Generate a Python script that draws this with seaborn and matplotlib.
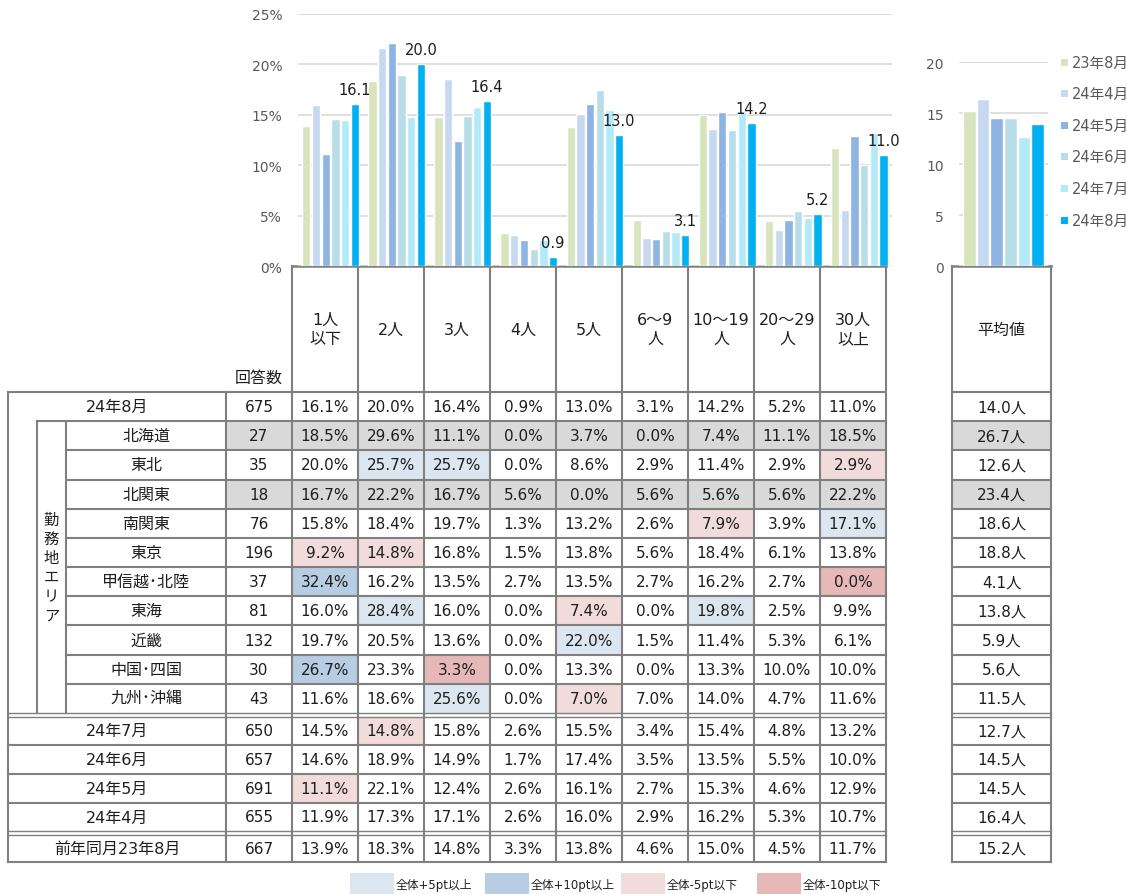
import numpy as np
import pandas as pd
import matplotlib
matplotlib.use("Agg")
import matplotlib.pyplot as plt
from matplotlib.patches import Rectangle
import seaborn as sns

# ---------------- data ----------------
size_labels = ["1人\n以下", "2人", "3人", "4人", "5人", "6～9\n人", "10～19\n人", "20～29\n人", "30人\n以上"]
months = ["23年8月", "24年4月", "24年5月", "24年6月", "24年7月", "24年8月"]

# bar heights (%) per month and size class
bar_2308 = [13.9, 18.3, 14.8, 3.3, 13.8, 4.6, 15.0, 4.5, 11.7]
bar_2404 = [16.0, 21.6, 18.5, 3.1, 15.1, 2.8, 13.6, 3.6, 5.6]
bar_2405 = [11.1, 22.1, 12.4, 2.6, 16.1, 2.7, 15.3, 4.6, 12.9]
bar_2406 = [14.6, 18.9, 14.9, 1.7, 17.4, 3.5, 13.5, 5.5, 10.0]
bar_2407 = [14.5, 14.8, 15.8, 2.6, 15.5, 3.4, 15.4, 4.8, 13.2]
bar_2408 = [16.1, 20.0, 16.4, 0.9, 13.0, 3.1, 14.2, 5.2, 11.0]

# average headcount per month
avg_by_month = [15.2, 16.4, 14.5, 14.5, 12.7, 14.0]

# table: overall
total_label = "24年8月"
total_n = 675
total_pct = [16.1, 20.0, 16.4, 0.9, 13.0, 3.1, 14.2, 5.2, 11.0]
total_avg = 14.0

# table: work area breakdown
area_group_label = "勤務地エリア"
areas = ["北海道", "東北", "北関東", "南関東", "東京", "甲信越･北陸", "東海", "近畿", "中国･四国", "九州･沖縄"]
area_n = [27, 35, 18, 76, 196, 37, 81, 132, 30, 43]
area_pct = [
    [18.5, 29.6, 11.1, 0.0, 3.7, 0.0, 7.4, 11.1, 18.5],
    [20.0, 25.7, 25.7, 0.0, 8.6, 2.9, 11.4, 2.9, 2.9],
    [16.7, 22.2, 16.7, 5.6, 0.0, 5.6, 5.6, 5.6, 22.2],
    [15.8, 18.4, 19.7, 1.3, 13.2, 2.6, 7.9, 3.9, 17.1],
    [9.2, 14.8, 16.8, 1.5, 13.8, 5.6, 18.4, 6.1, 13.8],
    [32.4, 16.2, 13.5, 2.7, 13.5, 2.7, 16.2, 2.7, 0.0],
    [16.0, 28.4, 16.0, 0.0, 7.4, 0.0, 19.8, 2.5, 9.9],
    [19.7, 20.5, 13.6, 0.0, 22.0, 1.5, 11.4, 5.3, 6.1],
    [26.7, 23.3, 3.3, 0.0, 13.3, 0.0, 13.3, 10.0, 10.0],
    [11.6, 18.6, 25.6, 0.0, 7.0, 7.0, 14.0, 4.7, 11.6],
]
area_avg = [26.7, 12.6, 23.4, 18.6, 18.8, 4.1, 13.8, 5.9, 5.6, 11.5]

# table: previous months
trend_labels = ["24年7月", "24年6月", "24年5月", "24年4月", "前年同月23年8月"]
trend_n = [650, 657, 691, 655, 667]
trend_pct = [
    [14.5, 14.8, 15.8, 2.6, 15.5, 3.4, 15.4, 4.8, 13.2],
    [14.6, 18.9, 14.9, 1.7, 17.4, 3.5, 13.5, 5.5, 10.0],
    [11.1, 22.1, 12.4, 2.6, 16.1, 2.7, 15.3, 4.6, 12.9],
    [11.9, 17.3, 17.1, 2.6, 16.0, 2.9, 16.2, 5.3, 10.7],
    [13.9, 18.3, 14.8, 3.3, 13.8, 4.6, 15.0, 4.5, 11.7],
]
trend_avg = [12.7, 14.5, 14.5, 16.4, 15.2]

highlight_labels = ["全体+5pt以上", "全体+10pt以上", "全体-5pt以下", "全体-10pt以下"]

# ---------------- style ----------------
sns.set_style("white")
plt.rcParams["font.family"] = ["DejaVu Sans", "Noto Sans CJK JP"]

bar_colors = ["#D7E4BD", "#C6D9F1", "#8EB4E3", "#B7DEE8", "#B3EAFA", "#00B0F0"]
hl_colors = ["#DCE6F1", "#B8CCE4", "#F2DCDB", "#E6B8B7"]
small_n_color = "#D9D9D9"
line_color = "#7F7F7F"
tick_color = "#595959"
text_color = "#1E1E1E"

W, H = 1127, 895
fig = plt.figure(figsize=(W / 100, H / 100), dpi=100)
tab = fig.add_axes([0, 0, 1, 1])
tab.set_xlim(0, W)
tab.set_ylim(H, 0)
tab.axis("off")


def px_axes(x0, y0, x1, y1):
    return fig.add_axes([x0 / W, 1 - y1 / H, (x1 - x0) / W, (y1 - y0) / H])


# ---------------- main bar chart ----------------
bars_long = pd.DataFrame({
    "区分": size_labels * len(months),
    "月": np.repeat(months, len(size_labels)),
    "割合": bar_2308 + bar_2404 + bar_2405 + bar_2406 + bar_2407 + bar_2408,
})
ax = px_axes(297.5, 14.7, 892.4, 267.3)
ax.patch.set_alpha(0)
sns.barplot(data=bars_long, x="区分", y="割合", hue="月", order=size_labels,
            hue_order=months, palette=bar_colors, saturation=1, width=0.88,
            gap=0.15, errorbar=None, legend=False, ax=ax)
ax.set_xlim(-0.5, len(size_labels) - 0.5)
ax.set_ylim(0, 25)
ax.set_yticks(range(0, 26, 5))
ax.set_yticklabels([f"{t}%" for t in range(0, 26, 5)], fontsize=10, color=tick_color)
ax.set_xticks([])
ax.set_xlabel("")
ax.set_ylabel("")
ax.yaxis.grid(True, color="#D9D9D9", lw=1.2)
ax.set_axisbelow(True)
ax.tick_params(axis="y", length=0, pad=11)
for s in ax.spines.values():
    s.set_visible(False)
ax.bar_label(ax.containers[-1], labels=[f"{v:.1f}" for v in bar_2408],
             padding=5, fontsize=10.5, color=text_color)

# ---------------- average bar chart ----------------
avg_long = pd.DataFrame({"指標": ["平均値"] * len(months), "月": months, "平均": avg_by_month})
ax2 = px_axes(959, 63.3, 1048, 267.3)
ax2.patch.set_alpha(0)
sns.barplot(data=avg_long, x="指標", y="平均", hue="月", hue_order=months,
            palette=bar_colors, saturation=1, width=0.92, gap=0.08,
            errorbar=None, legend=False, ax=ax2)
ax2.set_xlim(-0.5, 0.5)
ax2.set_ylim(0, 20)
ax2.set_yticks(range(0, 21, 5))
ax2.set_yticklabels([str(t) for t in range(0, 21, 5)], fontsize=10, color=tick_color)
ax2.set_xticks([])
ax2.set_xlabel("")
ax2.set_ylabel("")
ax2.yaxis.grid(True, color="#D9D9D9", lw=1.2)
ax2.set_axisbelow(True)
ax2.tick_params(axis="y", length=0, pad=11)
for s in ax2.spines.values():
    s.set_visible(False)

# month legend
for i, (m, c) in enumerate(zip(months, bar_colors)):
    yy = 63 + 31.6 * i
    tab.add_patch(Rectangle((1061, yy - 3.5), 7, 7, color=c, lw=0))
    tab.text(1072, yy, m, fontsize=10.5, color=tick_color, va="center", ha="left")

# ---------------- table ----------------
col_x = [292 + 66 * i for i in range(len(size_labels) + 1)]
col_c = [(a + b) / 2 for a, b in zip(col_x[:-1], col_x[1:])]
avg_x0, avg_x1 = 952, 1051
left_x, grp_x, area_x, n_x = 8, 37, 66, 226
head_top, head_bot = 267, 393
main_edges = list(np.linspace(393, 714, len(areas) + 2))
trend_edges = [717.5, 746, 775, 804, 832]
last_edges = [835.5, 863]

NUM = 11      # numeric cells
LAB = 11.5    # row / column labels


def cell_color(v, ref):
    d = round(v - ref, 1)
    if d >= 10:
        return hl_colors[1]
    if d >= 5:
        return hl_colors[0]
    if d <= -10:
        return hl_colors[3]
    if d <= -5:
        return hl_colors[2]
    return None


def fill(x0, x1, y0, y1, c):
    tab.add_patch(Rectangle((x0, y0), x1 - x0, y1 - y0, color=c, lw=0, zorder=1))


def put(x, y, s, size=NUM, **kw):
    tab.text(x, y, s, fontsize=size, color=text_color, ha="center", va="center", zorder=4, **kw)


def data_row(y0, y1, n, pct, avg, grey=False):
    yc = (y0 + y1) / 2
    if grey:
        fill(n_x, col_x[-1], y0, y1, small_n_color)
        fill(avg_x0, avg_x1, y0, y1, small_n_color)
    put((n_x + col_x[0]) / 2, yc, f"{n}")
    for j, v in enumerate(pct):
        c = None if grey else cell_color(v, total_pct[j])
        if c:
            fill(col_x[j], col_x[j + 1], y0, y1, c)
        put(col_c[j], yc, f"{v:.1f}%")
    put((avg_x0 + avg_x1) / 2, yc, f"{avg:.1f}人")


# header
for j, lab in enumerate(size_labels):
    put(col_c[j], 330, lab, LAB, linespacing=1.4)
put(259, 378, "回答数", LAB)
put((avg_x0 + avg_x1) / 2, 330, "平均値", LAB)

# overall row
put((left_x + n_x) / 2, (main_edges[0] + main_edges[1]) / 2, total_label, LAB)
data_row(main_edges[0], main_edges[1], total_n, total_pct, total_avg)

# area rows
for i, a in enumerate(areas):
    y0, y1 = main_edges[i + 1], main_edges[i + 2]
    put((area_x + n_x) / 2, (y0 + y1) / 2, a, LAB)
    data_row(y0, y1, area_n[i], area_pct[i], area_avg[i], grey=area_n[i] < 30)
put((grp_x + area_x) / 2, 568, "\n".join(area_group_label), 11, linespacing=1.35)

# previous-month rows
rows = [(trend_edges[k], trend_edges[k + 1]) for k in range(len(trend_edges) - 1)]
rows.append((last_edges[0], last_edges[1]))
for (y0, y1), lab, n, pct, avg in zip(rows, trend_labels, trend_n, trend_pct, trend_avg):
    put((left_x + n_x) / 2, (y0 + y1) / 2, lab, LAB)
    data_row(y0, y1, n, pct, avg)

# grid lines
lk = dict(color=line_color, solid_capstyle="projecting", zorder=3)


def hl(y, x0, x1, lw=1.5):
    tab.plot([x0, x1], [y, y], lw=lw, **lk)


def vl(x, y0, y1, lw=1.5):
    tab.plot([x, x], [y0, y1], lw=lw, **lk)


hl(head_top, col_x[0], col_x[-1], lw=1.8)
hl(head_top, avg_x0, avg_x1, lw=1.8)
hl(main_edges[0], left_x, col_x[-1])
hl(main_edges[0], avg_x0, avg_x1)
hl(main_edges[1], grp_x, col_x[-1])
hl(main_edges[1], avg_x0, avg_x1)
for y in main_edges[2:-1]:
    hl(y, area_x, col_x[-1])
    hl(y, avg_x0, avg_x1)
for y in (713.6, 717.6, 831.6, 835.6):
    hl(y, left_x, col_x[-1], lw=1.0)
    hl(y, avg_x0, avg_x1, lw=1.0)
for y in trend_edges[1:-1]:
    hl(y, left_x, col_x[-1])
    hl(y, avg_x0, avg_x1)
hl(last_edges[1], left_x, col_x[-1])
hl(last_edges[1], avg_x0, avg_x1)

vl(left_x, main_edges[0], last_edges[1])
vl(grp_x, main_edges[1], main_edges[-1])
vl(area_x, main_edges[1], main_edges[-1])
vl(n_x, main_edges[0], last_edges[1])
for x in col_x:
    vl(x, head_top, last_edges[1])
vl(avg_x0, head_top, last_edges[1])
vl(avg_x1, head_top, last_edges[1])

# highlight key
key_x = [350, 485, 621, 757]
for x, lab, c in zip(key_x, highlight_labels, hl_colors):
    tab.add_patch(Rectangle((x, 874), 44, 22, color=c, lw=0, zorder=1))
    tab.text(x + 46, 885.5, lab, fontsize=8.5, color=text_color, va="center", ha="left")

fig.savefig("out.png", dpi=100)
